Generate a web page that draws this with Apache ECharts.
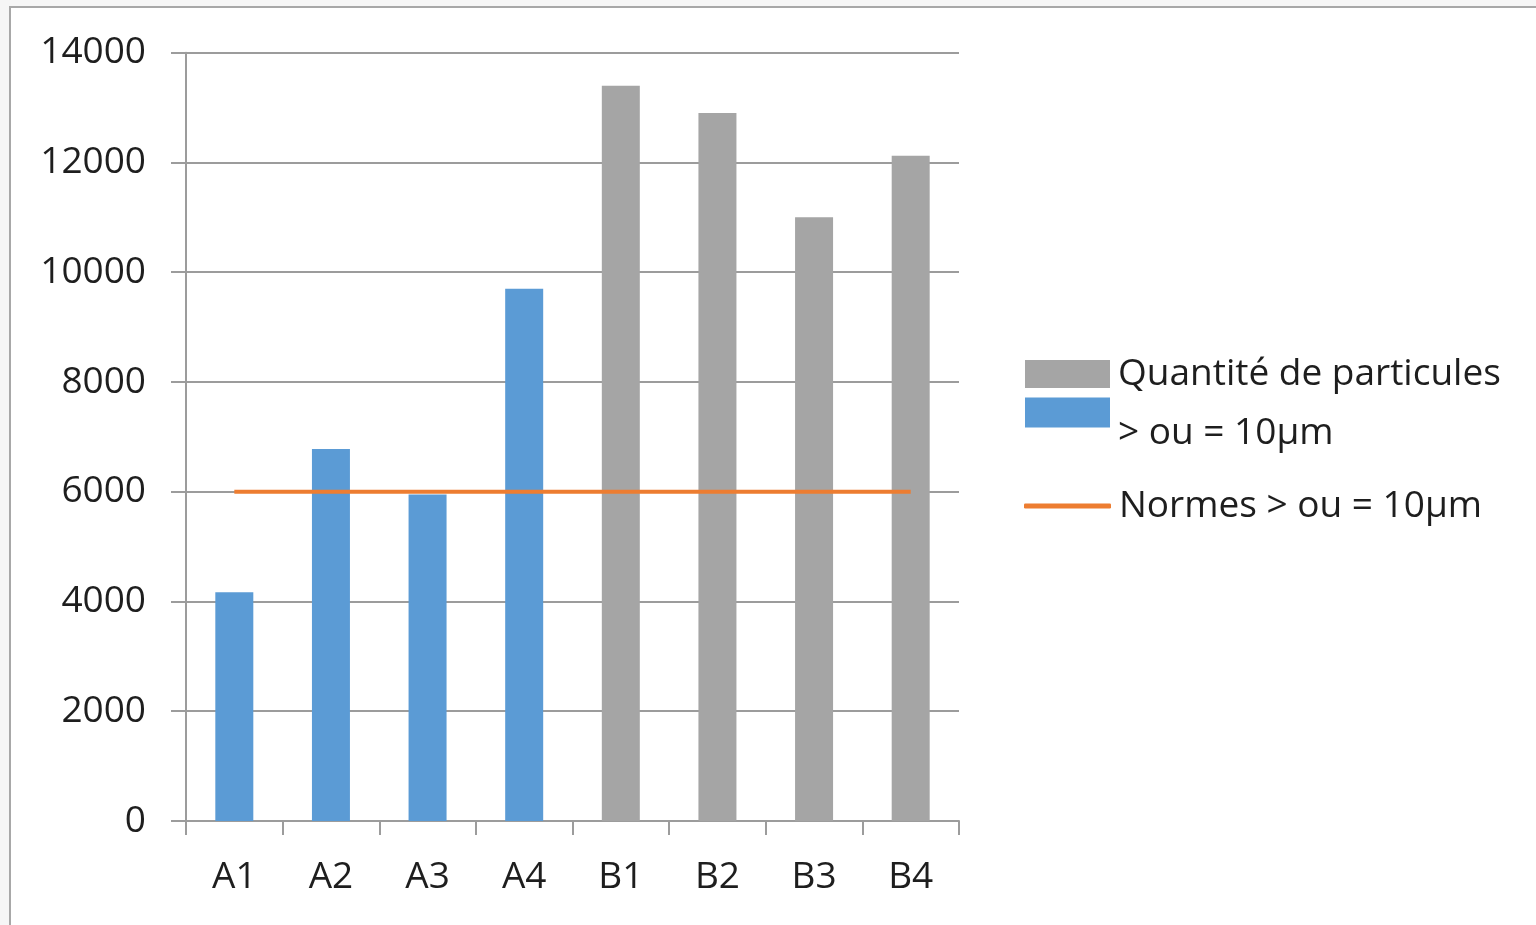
<!DOCTYPE html>
<html>
<head>
<meta charset="utf-8">
<script src="https://cdn.jsdelivr.net/npm/echarts@6/dist/echarts.min.js"></script>
<style>
  html, body { margin: 0; padding: 0; background: #f6f6f6; width: 1536px; height: 925px; overflow: hidden; }
  #frame { position: absolute; left: 9px; top: 6px; right: 0; bottom: 0; background: #fff;
           border-left: 2px solid #a8a8a8; border-top: 2px solid #a8a8a8; }
  #chart { position: absolute; left: 0; top: 0; width: 1536px; height: 925px; }
</style>
</head>
<body>
<div id="frame"></div>
<div id="chart"></div>
<script>
const categories = ['A1', 'A2', 'A3', 'A4', 'B1', 'B2', 'B3', 'B4'];
const greyValues = [null, null, null, null, 13400, 12900, 11000, 12120];
const blueValues = [4170, 6780, 5950, 9700, null, null, null, null];
const normValues = [6000, 6000, 6000, 6000, 6000, 6000, 6000, 6000];
const yTicks = [0, 2000, 4000, 6000, 8000, 10000, 12000, 14000];

const FONT = 'Open Sans';
const TXT = '#1e1e1e';
const AX = '#9c9c9c';

const legendText = { color: TXT, fontFamily: FONT, fontSize: 37, lineHeight: 44, padding: [0, 0, 0, 3] };

const chart = echarts.init(document.getElementById('chart'), null, { renderer: 'canvas' });
chart.setOption({
  backgroundColor: 'transparent',
  animation: false,
  grid: { left: 186, top: 52.7, right: 577, bottom: 104, containLabel: false },
  xAxis: {
    type: 'category',
    data: categories,
    boundaryGap: true,
    axisLine: { show: true, lineStyle: { color: AX, width: 2 } },
    axisTick: { show: true, length: 14, alignWithLabel: false, lineStyle: { color: AX, width: 2 } },
    axisLabel: { margin: 38, color: TXT, fontFamily: FONT, fontSize: 37 },
    splitLine: { show: false }
  },
  yAxis: {
    type: 'value',
    min: yTicks[0],
    max: yTicks[yTicks.length - 1],
    interval: 2000,
    axisLine: { show: true, lineStyle: { color: AX, width: 2 } },
    axisTick: { show: true, length: 15, lineStyle: { color: AX, width: 2 } },
    axisLabel: { margin: 40, color: TXT, fontFamily: FONT, fontSize: 37, formatter: (v) => String(v) },
    splitLine: { show: true, lineStyle: { color: AX, width: 2 } }
  },
  legend: [
    {
      orient: 'vertical',
      left: 1025,
      top: 352,
      padding: 0,
      itemWidth: 85,
      itemHeight: 28,
      icon: 'rect',
      textStyle: legendText,
      data: [{ name: 'Quantité de particules' }]
    },
    {
      orient: 'vertical',
      left: 1025,
      top: 373,
      padding: 0,
      itemWidth: 85,
      itemHeight: 30,
      icon: 'rect',
      formatter: (name) => '{low|' + name + '}',
      textStyle: Object.assign({}, legendText, {
        rich: { low: { color: TXT, fontFamily: FONT, fontSize: 37, lineHeight: 44, padding: [42, 0, 0, 0] } }
      }),
      data: [{ name: '> ou = 10µm' }]
    },
    {
      orient: 'vertical',
      left: 1024,
      top: 484,
      padding: 0,
      itemWidth: 87,
      itemHeight: 5,
      icon: 'roundRect',
      textStyle: legendText,
      data: [{ name: 'Normes > ou = 10µm' }]
    }
  ],
  series: [
    {
      name: 'Quantité de particules',
      type: 'bar',
      stack: 'q',
      barWidth: 38,
      data: greyValues,
      itemStyle: { color: '#a5a5a5' }
    },
    {
      name: '> ou = 10µm',
      type: 'bar',
      stack: 'q',
      barWidth: 38,
      data: blueValues,
      itemStyle: { color: '#5b9bd5' }
    },
    {
      name: 'Normes > ou = 10µm',
      type: 'line',
      data: normValues,
      symbol: 'none',
      lineStyle: { color: '#ed7d31', width: 4 },
      itemStyle: { color: '#ed7d31' },
      z: 5
    }
  ]
});
</script>
</body>
</html>
